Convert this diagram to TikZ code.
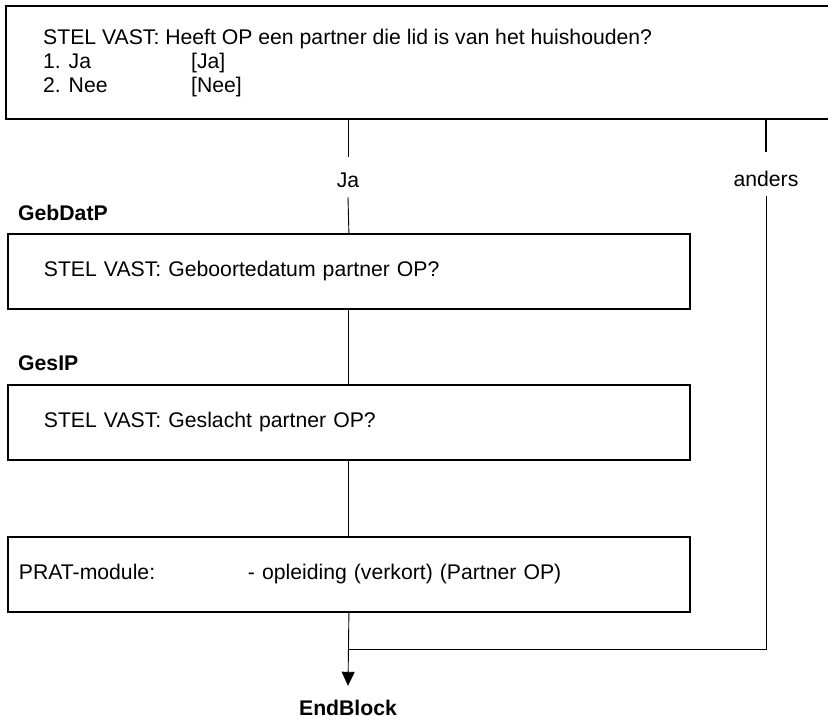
\documentclass[tikz,border=0pt]{standalone}
\usepackage{fontspec}
\setmainfont{Liberation Sans}
\usetikzlibrary{arrows.meta}
\begin{document}
\begin{tikzpicture}[x=1pt,y=-1pt,
  txt/.style={font=\fontsize{21.2}{24}\selectfont, inner sep=0pt},
  lbl/.style={font=\fontsize{21.2}{24}\selectfont\bfseries, inner sep=0pt, anchor=west},
  box/.style={draw, line width=1.8pt, minimum width=682pt, minimum height=75pt,
    anchor=north west, inner sep=0pt, txt, align=left, text width=610pt},
  conn/.style={draw, line width=0.9pt},
]
\clip (0,0) rectangle (828,722);
\fill[white] (0,0) rectangle (828,722);

% top question box (right edge runs off the picture)
\node[draw, line width=1.8pt, anchor=north west, minimum width=860pt,
  minimum height=113pt, inner sep=0pt] (q) at (5,5) {};
\node[txt, anchor=base west] (q1) at (43,44.5) {STEL VAST: Heeft OP een partner die lid is van het huishouden?};
\node[txt, anchor=base west] (q2) at (43,68.5) {1. Ja};
\node[txt, anchor=base west] (q2b) at (191,68.5) {[Ja]};
\node[txt, anchor=base west] (q3) at (43,92.5) {2. Nee};
\node[txt, anchor=base west] (q3b) at (191,92.5) {[Nee]};

% branch labels
\node[txt, anchor=base, text height=30.5pt, text depth=9.5pt] (ja) at (348,187.5) {Ja};
\node[txt, anchor=base, text height=34.5pt, text depth=9.5pt] (anders) at (766,186.5) {anders};

% GebDatP
\node[lbl] (l1) at (18,213) {GebDatP};
\node[box] (b1) at (7,233) {\raisebox{-2pt}{STEL VAST: Geboortedatum partner OP?}};

% GesIP
\node[lbl] (l2) at (18,363) {GesIP};
\node[box] (b2) at (7,384) {\raisebox{-1pt}{STEL VAST: Geslacht partner OP?}};

% PRAT
\node[box, text width=660pt] (b3) at (7,536)
  {\makebox[229pt][l]{PRAT-module:}- opleiding (verkort) (Partner OP)};

% end
\node[lbl, anchor=center, minimum height=44pt] (end) at (348,708) {EndBlock};
\coordinate (m) at (348,649);

% connectors
\draw[conn] (q.south -| ja.north) -- (ja.north);
\draw[conn] (ja.south) -- (b1.north);
\draw[conn] (b1.south) -- (b2.north);
\draw[conn] (b2.south) -- (b3.north);
\draw[conn, -{Triangle[length=14pt,width=13pt]}] (b3.south) -- (end.north);
\draw[line width=1.5pt] (q.south -| anders.north) -- (anders.north);
\draw[conn] (anders.south) |- (m);
\end{tikzpicture}
\end{document}
